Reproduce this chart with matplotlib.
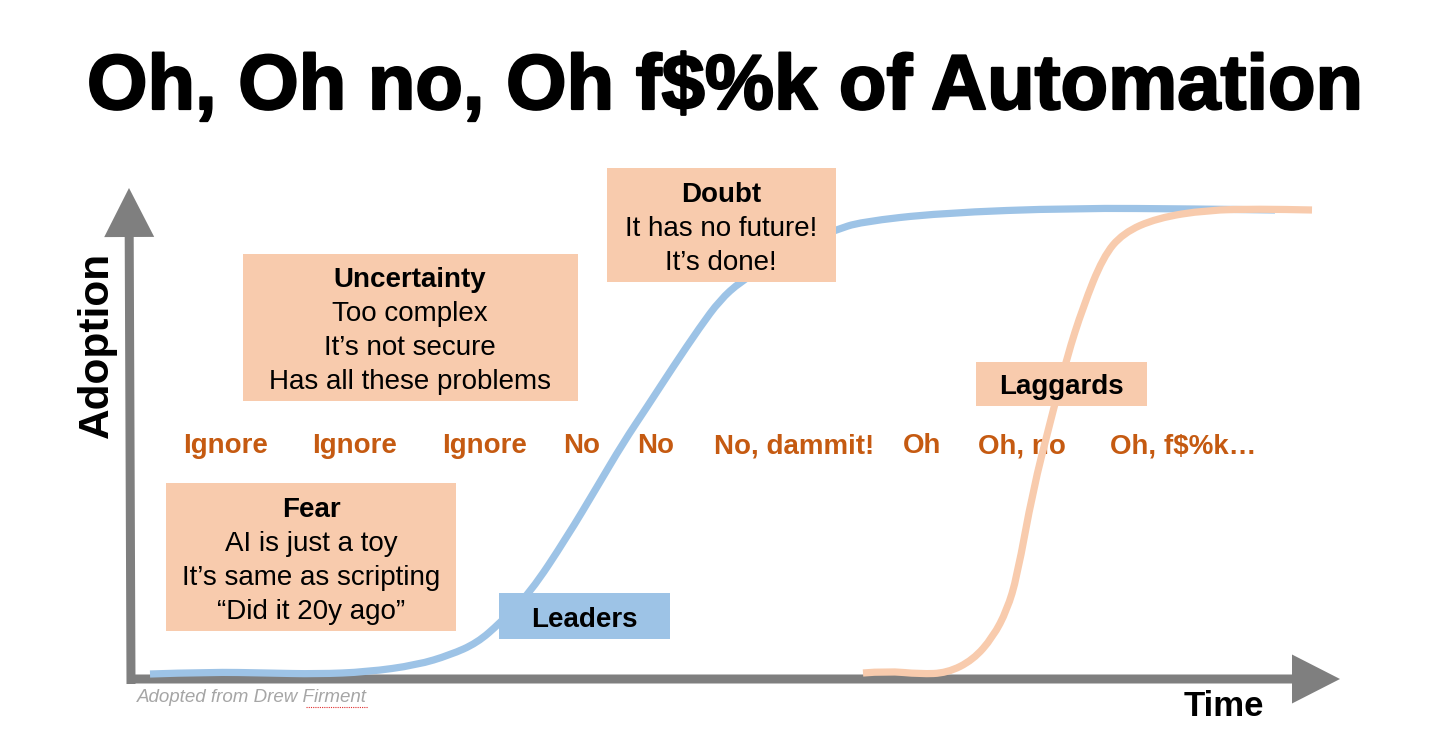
import matplotlib.pyplot as plt
import matplotlib.patheffects as pe
from matplotlib.patches import Rectangle, FancyArrow, PathPatch
from matplotlib.path import Path

# curve points (x = time, y = adoption, in picture pixels)
leaders_t = [150, 210, 267, 317, 367, 417, 450, 477, 500, 530, 567, 597, 623, 647,
             673, 700, 720, 740, 780, 810, 836, 860, 940, 1073, 1200, 1275]
leaders_a = [674, 672, 673, 674, 672, 665, 655, 643, 623, 593, 537, 487, 443, 407,
             367, 327, 300, 282, 256, 240, 230, 222, 213, 208, 209, 210]

laggards_t = [863, 887, 920, 947, 973, 993, 1007, 1017, 1033, 1050, 1067, 1083,
              1103, 1123, 1157, 1207, 1260, 1312]
laggards_a = [673, 671, 674, 673, 660, 637, 610, 577, 490, 423, 357, 307,
              257, 233, 218, 210, 209, 210]

reactions = ["Ignore", "Ignore", "Ignore", "No", "No", "No, dammit!", "Oh", "Oh, no", "Oh, f$%k…"]
reaction_x = [183, 312, 442, 563, 637, 714, 903, 978, 1110]

fear_lines = ["AI is just a toy", "It’s same as scripting", "“Did it 20y ago”"]
uncert_lines = ["Too complex", "It’s not secure", "Has all these problems"]
doubt_lines = ["It has no future!", "It’s done!"]

peach = "#F8CBAD"
blue = "#9DC3E6"
rust = "#C55A11"
grey = "#7F7F7F"

plt.rcParams['font.family'] = ['Liberation Sans', 'DejaVu Sans']

fig = plt.figure(figsize=(14.4, 7.42), dpi=100)
ax = fig.add_axes([0, 0, 1, 1])
ax.set_xlim(0, 1440)
ax.set_ylim(742, 0)
ax.axis('off')


# smooth line through the read points: quadratic bezier, read points as controls
def smooth_curve(xs, ys, color, z):
    verts = [(xs[0], ys[0])]
    codes = [Path.MOVETO]
    for i in range(1, len(xs) - 1):
        mx = (xs[i] + xs[i + 1]) / 2
        my = (ys[i] + ys[i + 1]) / 2
        verts += [(xs[i], ys[i]), (mx, my)]
        codes += [Path.CURVE3, Path.CURVE3]
    verts.append((xs[-1], ys[-1]))
    codes.append(Path.LINETO)
    ax.add_patch(PathPatch(Path(verts, codes), fill=False, edgecolor=color,
                           lw=5.2, joinstyle='round', capstyle='butt', zorder=z))


# title
ax.text(725, 109, "Oh, Oh no, Oh f$%k of Automation", fontsize=56, fontweight='bold',
        ha='center', va='baseline', color='black',
        path_effects=[pe.withStroke(linewidth=1.6, foreground='black')])

# axes arrows
ax.add_patch(FancyArrow(131, 684, -2, -496, width=9, head_width=50, head_length=49,
                        length_includes_head=True, color=grey, lw=0, zorder=1))
ax.add_patch(FancyArrow(127, 679, 1213, 0, width=9, head_width=49, head_length=48,
                        length_includes_head=True, color=grey, lw=0, zorder=1))
ax.text(97, 345, "Adoption", fontsize=30.5, fontweight='bold', rotation=90,
        ha='center', va='center')
ax.text(1224, 707, "Time", fontsize=25, fontweight='bold', ha='center', va='center')
ax.text(137, 698, "Adopted from Drew Firment", fontsize=13.5, style='italic',
        color='#A6A6A6', ha='left', va='center')
ax.plot([306, 368], [707, 707], color='#E03030', lw=0.8, ls=(0, (1, 1)))

# reaction words
for w, x in zip(reactions, reaction_x):
    ax.text(x, 446, w, fontsize=20, fontweight='bold', color=rust,
            ha='left', va='center', zorder=2)

# curves
smooth_curve(leaders_t, leaders_a, blue, 3)
smooth_curve(laggards_t, laggards_a, peach, 3.5)

# boxes
def box(x0, y0, x1, y1, color, z):
    ax.add_patch(Rectangle((x0, y0), x1 - x0, y1 - y0, color=color, lw=0, zorder=z))

dy = 3
box(166, 483, 456, 631, peach, 5)
ax.text(311, 507 + dy, "Fear", fontsize=20, fontweight='bold', ha='center', va='center', zorder=6)
for i, s in enumerate(fear_lines):
    ax.text(311, 541 + 34 * i + dy, s, fontsize=20, ha='center', va='center', zorder=6)

box(243, 254, 578, 401, peach, 5)
ax.text(410, 277 + dy, "Uncertainty", fontsize=20, fontweight='bold', ha='center', va='center', zorder=6)
for i, s in enumerate(uncert_lines):
    ax.text(410, 311 + 34 * i + dy, s, fontsize=20, ha='center', va='center', zorder=6)

box(607, 168, 836, 282, peach, 5)
ax.text(721, 192 + dy, "Doubt", fontsize=20, fontweight='bold', ha='center', va='center', zorder=6)
for i, s in enumerate(doubt_lines):
    ax.text(721, 226 + 34 * i + dy, s, fontsize=20, ha='center', va='center', zorder=6)

box(499, 593, 670, 639, blue, 5)
ax.text(584, 617 + dy, "Leaders", fontsize=20, fontweight='bold', ha='center', va='center', zorder=6)

box(976, 362, 1147, 406, peach, 3.2)
ax.text(1061, 384 + dy, "Laggards", fontsize=20, fontweight='bold', ha='center', va='center', zorder=6)

fig.savefig('out.png', dpi=100)
